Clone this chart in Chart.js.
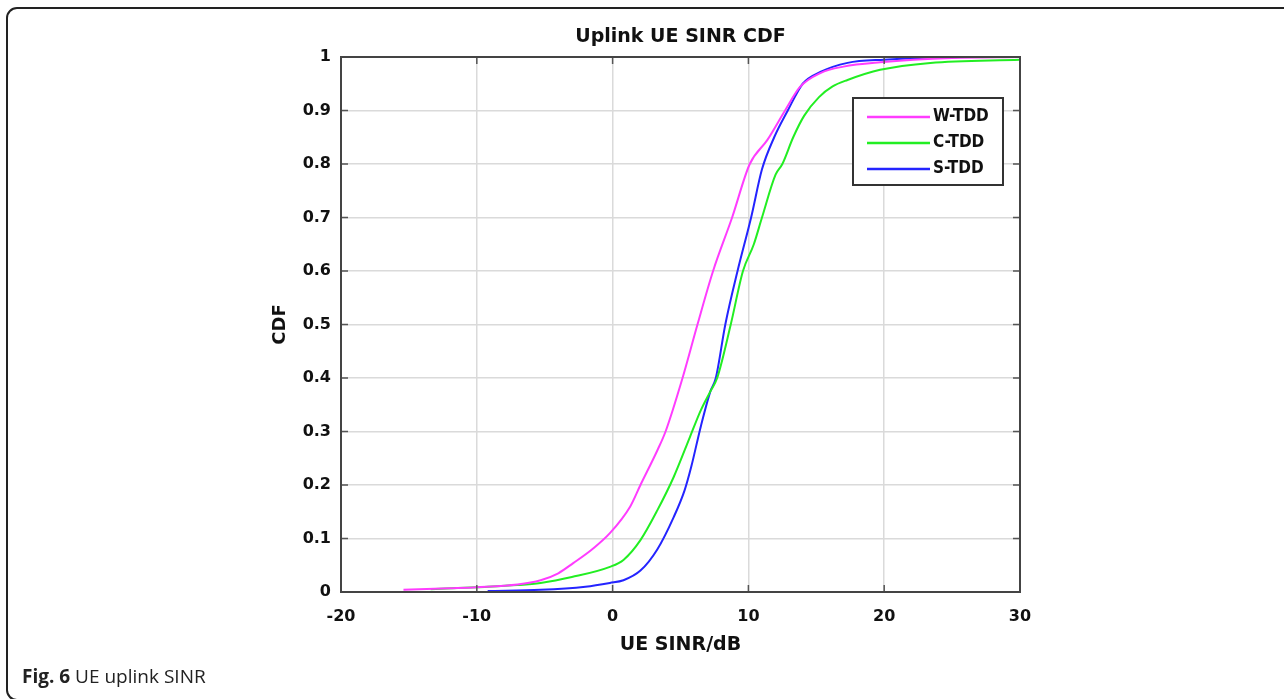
<!DOCTYPE html>
<html>
<head>
<meta charset="utf-8">
<title>Uplink UE SINR CDF</title>
<script src="https://cdn.jsdelivr.net/npm/chart.js@4/dist/chart.umd.min.js"></script>
<style>
  body { margin: 0; background: #fff; width: 1284px; height: 699px; overflow: hidden; position: relative; }
  #frame { position: absolute; left: 6px; top: 7px; width: 1300px; height: 694px; border: 2px solid #222; border-radius: 11px; box-sizing: border-box; }
  #chart { position: absolute; left: 0; top: 0; }
  #caption { position: absolute; left: 22px; top: 663px; font: 19px "Open Sans", sans-serif; color: #222; white-space: nowrap; }
</style>
</head>
<body>
<div id="frame"></div>
<canvas id="chart" width="1284" height="699"></canvas>
<div id="caption"><b>Fig. 6</b> UE uplink SINR</div>
<script>
// values
var xTickLabels = ["-20", "-10", "0", "10", "20", "30"];
var yTickLabels = ["0", "0.1", "0.2", "0.3", "0.4", "0.5", "0.6", "0.7", "0.8", "0.9", "1"];
var seriesNames = ["W-TDD", "C-TDD", "S-TDD"];

var sinrW = [-15.4, -12, -10, -7, -5.3, -4, -2.9, -1.5, -0.2, 1.3, 2.05, 3.3, 3.9, 5.15, 6.25, 7.4, 8.8, 10.1, 11.4, 12.7, 13.8, 15.3, 17, 19.7, 25, 30];
var cdfW  = [0.004, 0.007, 0.009, 0.014, 0.022, 0.035, 0.054, 0.08, 0.11, 0.16, 0.2, 0.265, 0.3, 0.4, 0.5, 0.6, 0.7, 0.8, 0.845, 0.9, 0.944, 0.97, 0.982, 0.99, 0.998, 1];

var sinrC = [-13.4, -10, -7, -5.3, -3, -0.2, 0.8, 2.05, 3.3, 4.5, 5.7, 6.5, 7.2, 7.7, 8.7, 9.6, 10.4, 11.0, 12.0, 12.5, 13.3, 14.1, 15.2, 16.2, 17.3, 19.7, 23.4, 30];
var cdfC  = [0.005, 0.009, 0.013, 0.017, 0.028, 0.047, 0.06, 0.097, 0.153, 0.215, 0.29, 0.34, 0.375, 0.4, 0.5, 0.6, 0.65, 0.7, 0.78, 0.8, 0.85, 0.89, 0.925, 0.945, 0.957, 0.976, 0.989, 0.995];

var sinrS = [-9.2, -5.3, -2, -0.2, 0.8, 2.05, 3.3, 4.5, 5.3, 5.8, 6.5, 7.2, 7.6, 8.3, 9.2, 10.2, 11.0, 11.9, 12.9, 14.0, 15.3, 17.3, 20, 26, 30];
var cdfS  = [0.002, 0.004, 0.01, 0.017, 0.022, 0.04, 0.08, 0.14, 0.19, 0.235, 0.31, 0.375, 0.4, 0.5, 0.6, 0.7, 0.79, 0.85, 0.9, 0.95, 0.972, 0.989, 0.995, 1, 1];

var colors = ["#ff3cff", "#22ee22", "#2424ff"];

function pts(xs, ys) {
  return xs.map(function (x, i) { return { x: x, y: ys[i] }; });
}

var series = [pts(sinrW, cdfW), pts(sinrC, cdfC), pts(sinrS, cdfS)];

// box, inward ticks and legend in the MATLAB style
var matlabBits = {
  id: "matlabBits",
  afterDraw: function (chart) {
    var c = chart.ctx, a = chart.chartArea;
    var xs = chart.scales.x, ys = chart.scales.y;
    c.save();
    c.strokeStyle = "#555";
    c.lineWidth = 1.5;
    c.beginPath();
    xs.ticks.forEach(function (t) {
      var px = xs.getPixelForValue(t.value);
      c.moveTo(px, a.bottom); c.lineTo(px, a.bottom - 7);
      c.moveTo(px, a.top); c.lineTo(px, a.top + 7);
    });
    ys.ticks.forEach(function (t) {
      var py = ys.getPixelForValue(t.value);
      c.moveTo(a.left, py); c.lineTo(a.left + 7, py);
      c.moveTo(a.right, py); c.lineTo(a.right - 7, py);
    });
    c.stroke();
    c.strokeStyle = "#444";
    c.lineWidth = 2;
    c.strokeRect(a.left, a.top, a.right - a.left, a.bottom - a.top);

    // legend
    var lx = a.right - 167, ly = a.top + 41;
    c.fillStyle = "#fff";
    c.fillRect(lx, ly, 150, 87);
    c.strokeStyle = "#333";
    c.lineWidth = 2;
    c.strokeRect(lx, ly, 150, 87);
    c.font = "bold 17px 'DejaVu Sans Condensed'";
    c.textBaseline = "middle";
    chart.data.datasets.forEach(function (ds, i) {
      var ry = ly + 19 + i * 26;
      c.strokeStyle = ds.borderColor;
      c.lineWidth = 2.5;
      c.beginPath();
      c.moveTo(lx + 14, ry); c.lineTo(lx + 77, ry);
      c.stroke();
      c.fillStyle = "#111";
      c.fillText(ds.label, lx + 80, ry);
    });
    c.restore();
  }
};

var ctx = document.getElementById("chart").getContext("2d");
var chart = new Chart(ctx, {
  type: "scatter",
  data: {
    datasets: seriesNames.map(function (name, i) {
      return {
        label: name,
        data: series[i],
        showLine: true,
        borderColor: colors[i],
        backgroundColor: colors[i],
        borderWidth: 2,
        pointRadius: 0,
        cubicInterpolationMode: "monotone"
      };
    })
  },
  options: {
    responsive: false,
    animation: false,
    layout: { padding: { left: 260, right: 264, top: 0, bottom: 0 } },
    plugins: {
      legend: { display: false },
      tooltip: { enabled: false },
      title: {
        display: true,
        fullSize: false,
        text: "Uplink UE SINR CDF",
        color: "#111",
        font: { family: "'DejaVu Sans'", size: 19, weight: "bold" },
        padding: { top: 25.6, bottom: 8.6 }
      }
    },
    scales: {
      x: {
        type: "linear",
        min: -20,
        max: 30,
        afterFit: function (s) { s.height = 107; },
        ticks: {
          stepSize: 10,
          padding: 15,
          color: "#111",
          font: { family: "'DejaVu Sans'", size: 16, weight: "bold" },
          callback: function (v, i) { return xTickLabels[i]; }
        },
        grid: { color: "#dadada", lineWidth: 1.5, drawTicks: false },
        border: { display: true, color: "#444", width: 2 },
        title: {
          display: true,
          text: "UE SINR/dB",
          color: "#111",
          font: { family: "'DejaVu Sans'", size: 19, weight: "bold" },
          padding: { top: 0, bottom: 42.6 }
        }
      },
      y: {
        min: 0,
        max: 1,
        afterFit: function (s) { s.width = 81; },
        ticks: {
          stepSize: 0.1,
          padding: 10,
          color: "#111",
          font: { family: "'DejaVu Sans'", size: 16, weight: "bold" },
          callback: function (v, i) { return yTickLabels[i]; }
        },
        grid: { color: "#dadada", lineWidth: 1.5, drawTicks: false },
        border: { display: true, color: "#444", width: 2 },
        title: {
          display: true,
          text: "CDF",
          color: "#111",
          font: { family: "'DejaVu Sans'", size: 18, weight: "bold" },
          padding: { top: 9.2, bottom: 0 }
        }
      }
    }
  },
  plugins: [matlabBits]
});
</script>
</body>
</html>
